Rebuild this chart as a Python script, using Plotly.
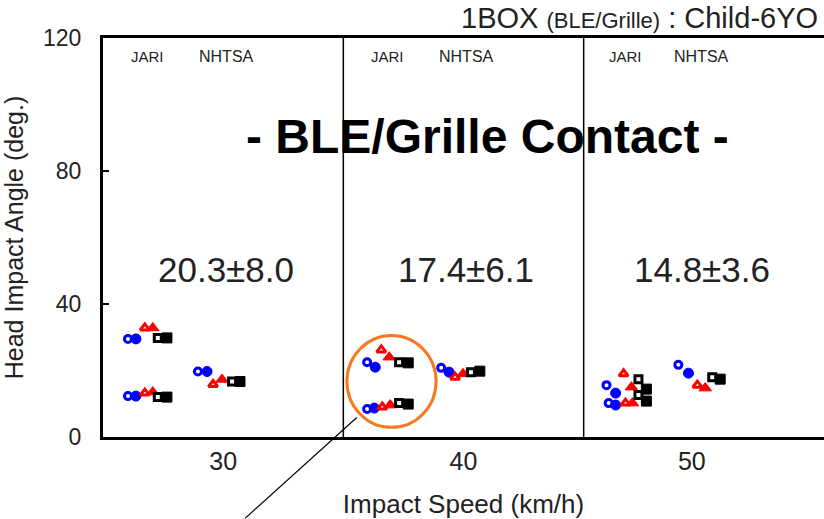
import plotly.graph_objects as go

# Head impact angle per test, split into the paired marker styles
# (hollow-centre marker first, solid marker second) for each series.
BLUE_OPEN_X = [26.04, 26.04, 28.95, 35.99, 35.99, 39.07, 45.95, 46.04, 48.94]
BLUE_OPEN_Y = [29.5, 12.3, 19.7, 22.5, 8.4, 20.8, 15.6, 10.2, 21.7]
BLUE_FILL_X = [26.37, 26.37, 29.33, 36.33, 36.29, 39.40, 46.33, 46.33, 49.36]
BLUE_FILL_Y = [29.5, 12.3, 19.7, 21.0, 8.7, 19.5, 13.2, 9.6, 19.2]

RED_OPEN_X = [26.74, 26.74, 29.58, 36.58, 36.62, 39.65, 46.66, 46.74, 49.73]
RED_OPEN_Y = [32.8, 13.2, 15.8, 26.2, 9.0, 18.0, 19.0, 10.2, 15.6]
RED_FILL_X = [27.07, 27.07, 29.95, 36.91, 36.95, 39.98, 46.99, 47.03, 50.06]
RED_FILL_Y = [32.8, 13.5, 17.3, 24.0, 9.6, 19.0, 15.0, 10.2, 14.7]

BLACK_OPEN_X = [27.28, 27.28, 30.37, 37.32, 37.32, 40.31, 47.28, 47.28, 50.35]
BLACK_OPEN_Y = [29.8, 12.0, 16.7, 22.5, 10.2, 19.5, 17.4, 12.6, 18.0]
BLACK_FILL_X = [27.66, 27.66, 30.70, 37.70, 37.70, 40.68, 47.61, 47.61, 50.68]
BLACK_FILL_Y = [29.8, 12.0, 16.7, 22.3, 9.9, 19.8, 14.4, 10.8, 17.4]

# Speed groups: tick labels, group separators and per-group statistics
SPEED_TICK_POS = [30, 40, 49.5]
SPEED_TICK_TEXT = ["30", "40", "50"]
GROUP_EDGES = [35, 45]
STAT_X = [30.12, 40.11, 49.93]
STAT_TEXT = ["20.3±8.0", "17.4±6.1", "14.8±3.6"]
JARI_X = [26.87, 36.82, 46.72]
NHTSA_X = [30.12, 40.11, 49.89]
ANGLE_TICKS = [0, 40, 80, 120]

SANS = "Liberation Sans, Arial, sans-serif"
INK = "#222222"

fig = go.Figure()


def add_pair(xo, yo, xf, yf, symbol, color, size):
    fig.add_trace(go.Scatter(
        x=xo, y=yo, mode="markers", showlegend=False, hoverinfo="skip",
        marker=dict(symbol=symbol, size=size - 3, color="white",
                    line=dict(color=color, width=3)),
    ))
    fig.add_trace(go.Scatter(
        x=xf, y=yf, mode="markers", showlegend=False, hoverinfo="skip",
        marker=dict(symbol=symbol, size=size, color=color,
                    line=dict(color=color, width=1)),
    ))


add_pair(BLUE_OPEN_X, BLUE_OPEN_Y, BLUE_FILL_X, BLUE_FILL_Y, "circle", "#0000FF", 10)
add_pair(RED_OPEN_X, RED_OPEN_Y, RED_FILL_X, RED_FILL_Y, "triangle-up", "#FF0000", 11)
add_pair(BLACK_OPEN_X, BLACK_OPEN_Y, BLACK_FILL_X, BLACK_FILL_Y, "square", "#000000", 10)

shapes = []
for edge in GROUP_EDGES:
    shapes.append(dict(type="line", xref="x", yref="paper", x0=edge, x1=edge,
                       y0=0, y1=1, line=dict(color="black", width=1.5)))

# highlight ring around the low-speed JARI cluster of the 40 km/h group
shapes.append(dict(type="circle", xref="x", yref="y",
                   x0=35.15, x1=38.86, y0=2.9, y1=30.5,
                   line=dict(color="#F47920", width=3)))
# pointer line leading out of the ring
shapes.append(dict(type="line", xref="paper", yref="paper",
                   x0=0.197, y0=-0.204, x1=0.352, y1=0.049,
                   line=dict(color="black", width=1.2)))

annotations = []
for xs, txt in zip(STAT_X, STAT_TEXT):
    annotations.append(dict(x=xs, y=50.4, xref="x", yref="y", text=txt,
                            showarrow=False,
                            font=dict(family=SANS, size=35, color=INK)))
for xj, xn in zip(JARI_X, NHTSA_X):
    annotations.append(dict(x=xj, y=114.5, xref="x", yref="y", text="JARI",
                            showarrow=False,
                            font=dict(family=SANS, size=15, color=INK)))
    annotations.append(dict(x=xn, y=114.5, xref="x", yref="y", text="NHTSA",
                            showarrow=False,
                            font=dict(family=SANS, size=16, color=INK)))

annotations.append(dict(x=41.0, y=90.4, xref="x", yref="y",
                        text="<b>- BLE/Grille Contact -</b>", showarrow=False,
                        font=dict(family=SANS, size=48, color="black")))
annotations.append(dict(x=0.995, y=1.051, xref="paper", yref="paper",
                        xanchor="right", yanchor="middle", showarrow=False,
                        text="1BOX <span style='font-size:22px'>(BLE/Grille)</span> : Child-6YO",
                        font=dict(family=SANS, size=29, color=INK)))

fig.update_layout(
    width=824, height=519,
    margin=dict(l=103, r=0, t=38, b=82),
    paper_bgcolor="white", plot_bgcolor="white",
    shapes=shapes, annotations=annotations,
    showlegend=False,
)

fig.update_xaxes(
    range=[25, 55], tickvals=SPEED_TICK_POS, ticktext=SPEED_TICK_TEXT,
    showgrid=False, zeroline=False, showline=True, linecolor="black",
    linewidth=3, mirror=True, ticks="",
    tickfont=dict(family=SANS, size=25, color=INK),
    title=dict(text="Impact Speed (km/h)", standoff=22,
               font=dict(family=SANS, size=26, color=INK)),
)
fig.update_yaxes(
    range=[0, 120], tickvals=ANGLE_TICKS,
    showgrid=False, zeroline=False, showline=True, linecolor="black",
    linewidth=3, ticks="inside", ticklen=6, tickwidth=1.5, tickcolor="black",
    ticklabelstandoff=14,
    tickfont=dict(family=SANS, size=23, color=INK),
    title=dict(text="Head Impact Angle (deg.)", standoff=20,
               font=dict(family=SANS, size=25, color=INK)),
)

fig.write_html("out.html")
